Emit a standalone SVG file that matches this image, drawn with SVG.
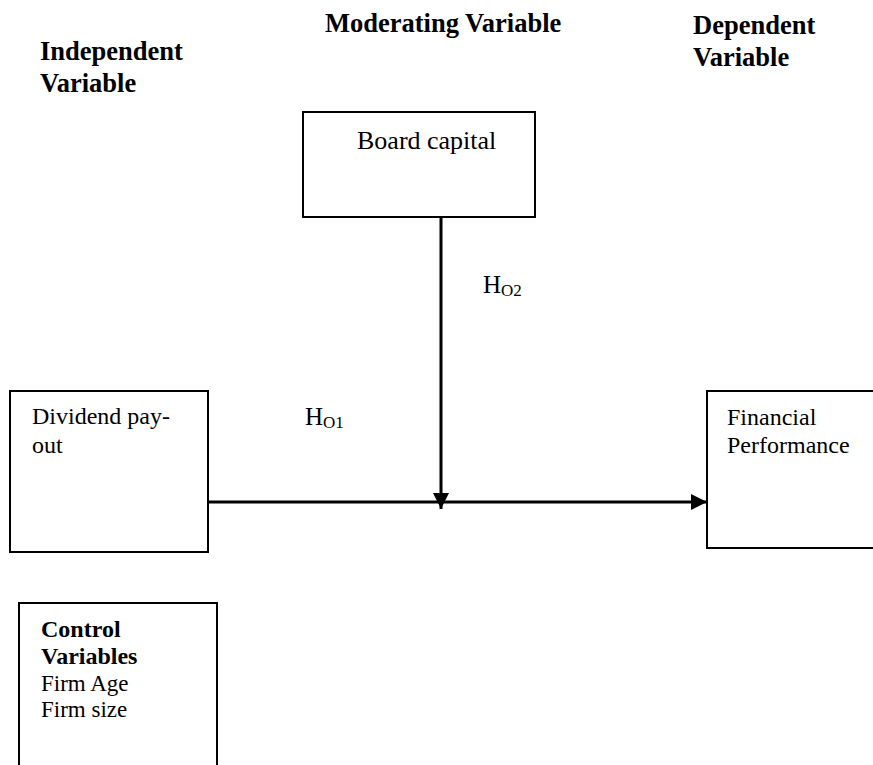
<svg xmlns="http://www.w3.org/2000/svg" width="873" height="765" viewBox="0 0 873 765">
<style>
.bg{fill:#fff}
.box{fill:#fff;stroke:#000;stroke-width:2}
.hd{font-family:"Liberation Serif","Times New Roman",serif;font-weight:bold;font-size:26.5px;fill:#000}
.tx{font-family:"Liberation Serif","Times New Roman",serif;font-size:24px;fill:#000}
.sub{font-size:17px}
.ln{stroke:#000;stroke-width:3;fill:none}
</style>
<defs>
<marker id="arr" viewBox="0 0 10 10" refX="10" refY="5" markerWidth="5.5" markerHeight="5.5" markerUnits="strokeWidth" orient="auto">
<path d="M0,0 L10,5 L0,10 z" fill="#000"/>
</marker>
</defs>
<rect class="bg" x="0" y="0" width="873" height="765"/>
<g id="headers">
<text class="hd" x="325" y="32">Moderating Variable</text>
<text class="hd" x="40" y="60">Independent</text>
<text class="hd" x="40" y="92">Variable</text>
<text class="hd" x="693" y="34">Dependent</text>
<text class="hd" x="693" y="66">Variable</text>
</g>
<g id="connectors">
<line class="ln" x1="441" y1="217" x2="441" y2="509" marker-end="url(#arr)"/>
<line class="ln" x1="208" y1="502" x2="707" y2="502" marker-end="url(#arr)"/>
</g>
<g id="board-capital">
<rect class="box" x="303" y="112" width="232" height="105"/>
<text class="tx" x="357" y="149" style="font-size:26px">Board capital</text>
</g>
<g id="dividend-payout">
<rect class="box" x="10" y="391" width="198" height="161"/>
<text class="tx" x="32" y="424">Dividend pay-</text>
<text class="tx" x="32" y="453">out</text>
</g>
<g id="financial-performance">
<rect class="box" x="707" y="391" width="180" height="157"/>
<text class="tx" x="727" y="425">Financial</text>
<text class="tx" x="727" y="453">Performance</text>
</g>
<g id="control-variables">
<rect class="box" x="19" y="603" width="198" height="180"/>
<text class="hd" x="41" y="637" style="font-size:24px">Control</text>
<text class="hd" x="41" y="664" style="font-size:24px">Variables</text>
<text class="tx" x="41" y="691" style="font-size:23px">Firm Age</text>
<text class="tx" x="41" y="717" style="font-size:23px">Firm size</text>
</g>
<g id="labels">
<text class="tx" x="483" y="293" style="font-size:25px">H<tspan class="sub" dy="3">O2</tspan></text>
<text class="tx" x="305" y="425" style="font-size:25px">H<tspan class="sub" dy="3">O1</tspan></text>
</g>
</svg>
